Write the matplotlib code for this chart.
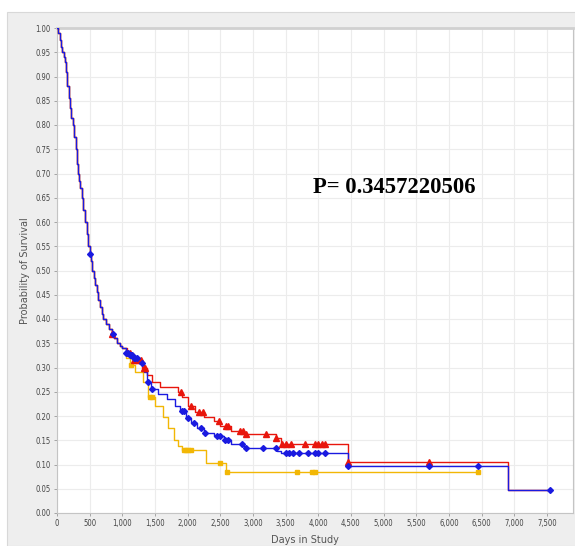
import matplotlib
matplotlib.use("Agg")
import matplotlib.pyplot as plt
import numpy as np
from matplotlib.patches import Rectangle
from matplotlib.ticker import FuncFormatter, MultipleLocator

# shared early decline (all three groups overlap here)
early_t = [0, 20, 40, 60, 80, 100, 120, 140, 160, 180, 200, 220, 245, 265,
           285, 300, 315, 335, 355, 380, 405, 430, 455, 480, 500, 520, 540,
           560, 585, 610, 635, 660, 685, 710, 750, 800, 840, 880, 920, 960,
           1000]
early_s = [1.0, 0.99, 0.975, 0.96, 0.95, 0.94, 0.93, 0.91, 0.88, 0.855,
           0.835, 0.815, 0.80, 0.775, 0.75, 0.72, 0.70, 0.685, 0.67, 0.65,
           0.625, 0.60, 0.575, 0.55, 0.535, 0.52, 0.50, 0.485, 0.47, 0.455,
           0.44, 0.425, 0.41, 0.40, 0.39, 0.38, 0.37, 0.36, 0.35, 0.345, 0.34]

red_t = [1075, 1170, 1300, 1380, 1450, 1580, 1850, 1920, 2000, 2120, 2250,
         2400, 2500, 2660, 2860, 3350, 3430, 4450, 6900]
red_s = [0.33, 0.315, 0.30, 0.285, 0.27, 0.26, 0.25, 0.24, 0.22, 0.208, 0.198,
         0.19, 0.18, 0.17, 0.163, 0.155, 0.142, 0.105, 0.047]
red_end = 7550
red_cens = [840, 1120, 1180, 1230, 1290, 1330, 1350, 1900, 2050, 2170, 2230,
            2480, 2580, 2620, 2800, 2850, 2900, 3200, 3360, 3450, 3500, 3580,
            3800, 3950, 4000, 4050, 4100, 4450, 5700]

blue_t = [1050, 1100, 1160, 1250, 1330, 1380, 1440, 1550, 1690, 1800, 1890,
          1970, 2050, 2150, 2250, 2400, 2550, 2660, 2860, 3370, 3430, 4450, 6900]
blue_s = [0.33, 0.325, 0.32, 0.31, 0.29, 0.27, 0.255, 0.245, 0.235, 0.22, 0.21,
          0.195, 0.185, 0.175, 0.165, 0.158, 0.15, 0.143, 0.135, 0.128, 0.123,
          0.097, 0.047]
blue_end = 7550
blue_cens = [500, 850, 1060, 1090, 1110, 1130, 1150, 1180, 1200, 1230, 1300,
             1390, 1450, 1920, 1950, 2000, 2100, 2200, 2270, 2450, 2500, 2570,
             2620, 2830, 2900, 3150, 3350, 3500, 3550, 3620, 3700, 3850, 3950,
             4000, 4100, 4450, 5700, 6450, 7550]

yellow_t = [1050, 1120, 1200, 1320, 1400, 1500, 1630, 1700, 1790, 1860, 1920,
            2280, 2580]
yellow_s = [0.32, 0.305, 0.29, 0.27, 0.24, 0.22, 0.198, 0.175, 0.15, 0.138,
            0.13, 0.103, 0.085]
yellow_end = 6450
yellow_cens = [1130, 1430, 1460, 1950, 1980, 2010, 2050, 2500, 2600, 3680,
               3900, 3950, 6450]

p_text = "P= 0.3457220506"

fig = plt.figure(figsize=(5.75, 5.46), dpi=100)
W, H = 575.0, 546.0
fig.patches.append(Rectangle((7 / W, 0), 1, 1 - 12 / H, transform=fig.transFigure,
                             facecolor="#eeeeee", edgecolor="#d8d8d8", lw=0.8,
                             zorder=-10))
ax = fig.add_axes([57 / W, 1 - 513 / H, (573 - 57) / W, (513 - 28) / H])
ax.set_facecolor("white")


def km_curve(tt, ss, end):
    t = np.array(early_t + tt + [end], dtype=float)
    s = np.array(early_s + ss + [ss[-1]], dtype=float)
    return t, s


def at(t, s, c):
    idx = np.searchsorted(t, c, side="right") - 1
    return s[idx]


groups = [
    (yellow_t, yellow_s, yellow_end, yellow_cens, "#f2b705", "s", 3.4),
    (red_t, red_s, red_end, red_cens, "#e8160c", "^", 3.8),
    (blue_t, blue_s, blue_end, blue_cens, "#1a1ae0", "D", 3.0),
]
for tt, ss, end, cens, col, mk, ms in groups:
    t, s = km_curve(tt, ss, end)
    ax.step(t, s, where="post", color=col, lw=1.0, zorder=3)
    cens = np.array(cens, dtype=float)
    ax.plot(cens, at(t, s, cens), linestyle="none", marker=mk, color=col,
            markersize=ms, zorder=4)

ax.set_xlim(0, 7900)
ax.set_ylim(0, 1.0)
ax.xaxis.set_major_locator(MultipleLocator(500))
ax.yaxis.set_major_locator(MultipleLocator(0.05))
ax.xaxis.set_major_formatter(FuncFormatter(lambda v, p: f"{int(v):,}"))
ax.yaxis.set_major_formatter(FuncFormatter(lambda v, p: f"{v:.2f}"))
ax.grid(True, color="#ececec", lw=0.8, zorder=0)
ax.set_axisbelow(True)
for sp in ax.spines.values():
    sp.set_color("#c4c4c4")
    sp.set_linewidth(0.8)
ax.spines["top"].set_color("#d0d0d0")
ax.spines["top"].set_linewidth(2)
ax.tick_params(labelsize=5.5, colors="#999999", length=2.5, width=0.6,
               pad=2)
for lab in ax.get_xticklabels() + ax.get_yticklabels():
    lab.set_color("#444444")
    lab.set_fontstretch("condensed")

ax.set_ylabel("Probability of Survival", fontsize=7, color="#555555")
ax.yaxis.set_label_coords(-0.052, 0.5)
ax.set_xlabel("Days in Study", fontsize=7, color="#555555")
ax.xaxis.set_label_coords(0.48, -0.045)

ax.text(0.497, 0.672, p_text, transform=ax.transAxes, ha="left", va="center",
        fontsize=16.3, fontweight="bold", family="Liberation Serif",
        color="black")
fig.savefig("out.png", dpi=100)
